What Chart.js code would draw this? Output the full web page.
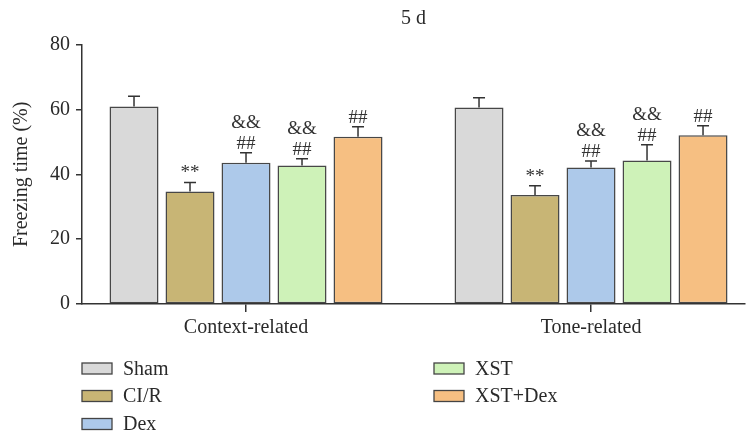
<!DOCTYPE html>
<html>
<head>
<meta charset="utf-8">
<script src="https://cdn.jsdelivr.net/npm/chart.js@4/dist/chart.umd.min.js"></script>
<style>
  html, body { margin: 0; padding: 0; background: #fff; }
  #wrap { width: 746px; height: 438px; }
</style>
</head>
<body>
<div id="wrap"><canvas id="myChart" width="746" height="438"></canvas></div>
<script>
// data
const categories = ['Context-related', 'Tone-related'];
const groups = ['Sham', 'CI/R', 'Dex', 'XST', 'XST+Dex'];
const contextMeans = [60.9, 34.7, 43.6, 42.7, 51.6];
const contextErr = [3.2, 2.8, 3.1, 2.1, 3.1];
const toneMeans = [60.6, 33.6, 42.1, 44.3, 52.1];
const toneErr = [3.0, 2.9, 2.0, 4.8, 2.9];
const contextMarks = [[], ['**'], ['##', '&&'], ['##', '&&'], ['##']];
const toneMarks = [[], ['**'], ['##', '&&'], ['##', '&&'], ['##']];
const yTicks = [0, 20, 40, 60, 80];

const colors = ['#d9d9d9', '#c8b575', '#adc9ea', '#cef2b8', '#f6bf82'];
const serif = '"Liberation Serif", "Times New Roman", serif';
const ink = '#2a2a2a';

var datasets = groups.map((g, i) => ({
  label: g,
  data: [{ x: 0, y: contextMeans[i] }, { x: 1, y: toneMeans[i] }],
  err: [contextErr[i], toneErr[i]],
  marks: [contextMarks[i], toneMarks[i]],
  backgroundColor: colors[i],
  borderColor: '#474747',
  borderWidth: 1.5,
  borderSkipped: false,
  categoryPercentage: 0.8116,
  barPercentage: 0.875
}));

// error bars + significance marks
const errorBars = {
  id: 'errorBars',
  afterDatasetsDraw(chart) {
    const ctx = chart.ctx;
    const y = chart.scales.y;
    ctx.save();
    chart.data.datasets.forEach((ds, di) => {
      const meta = chart.getDatasetMeta(di);
      meta.data.forEach((bar, j) => {
        const top = y.getPixelForValue(ds.data[j].y + ds.err[j]);
        ctx.strokeStyle = '#333';
        ctx.lineWidth = 1.5;
        ctx.beginPath();
        ctx.moveTo(bar.x, bar.y);
        ctx.lineTo(bar.x, top);
        ctx.moveTo(bar.x - 6, top);
        ctx.lineTo(bar.x + 6, top);
        ctx.stroke();
        ctx.fillStyle = '#333';
        ctx.font = '19px ' + serif;
        ctx.textAlign = 'center';
        ctx.textBaseline = 'alphabetic';
        ds.marks[j].forEach((m, k) => {
          ctx.fillText(m, bar.x, top - 4 - k * 21);
        });
      });
    });
    ctx.restore();
  }
};

// two-column legend under the axis
const sideLegend = {
  id: 'sideLegend',
  afterDraw(chart) {
    const ctx = chart.ctx;
    const cols = [82, 434];
    const rows = [368.5, 396, 424];
    ctx.save();
    ctx.font = '20px ' + serif;
    ctx.textBaseline = 'middle';
    ctx.textAlign = 'left';
    chart.data.datasets.forEach((ds, i) => {
      const col = i < 3 ? 0 : 1;
      const row = i < 3 ? i : i - 3;
      const bx = cols[col], by = rows[row];
      ctx.fillStyle = ds.backgroundColor;
      ctx.fillRect(bx, by - 5.5, 30, 11);
      ctx.strokeStyle = '#444';
      ctx.lineWidth = 1.3;
      ctx.strokeRect(bx, by - 5.5, 30, 11);
      ctx.fillStyle = ink;
      ctx.fillText(ds.label, bx + 41, by + 1);
    });
    ctx.restore();
  }
};

var config = {
  type: 'bar',
  data: { datasets: datasets },
  options: {
    responsive: false,
    animation: false,
    layout: { padding: { left: 0, right: 1, bottom: 94, top: 0 } },
    plugins: {
      legend: { display: false },
      tooltip: { enabled: false },
      title: {
        display: true,
        text: '5 d',
        fullSize: false,
        color: ink,
        font: { family: serif, size: 20, weight: 'normal' },
        padding: { top: 7, bottom: 13.7 }
      }
    },
    scales: {
      x: {
        type: 'linear',
        min: -0.4754,
        max: 1.4463,
        offset: false,
        afterBuildTicks: s => { s.ticks = [{ value: 0 }, { value: 1 }]; },
        afterFit: s => { s.height = 40; },
        ticks: {
          color: ink,
          padding: 4,
          font: { family: serif, size: 20 },
          callback: v => categories[v] || ''
        },
        grid: { display: true, drawOnChartArea: false, offset: false, tickLength: 8, color: '#333', lineWidth: 1.5 },
        border: { color: '#333', width: 1.5 }
      },
      y: {
        min: 0,
        max: 80,
        afterBuildTicks: s => { s.ticks = yTicks.map(v => ({ value: v })); },
        afterFit: s => { s.width = 82; },
        ticks: { color: ink, padding: 6, font: { family: serif, size: 20 } },
        grid: { drawOnChartArea: false, tickLength: 6, color: '#333', lineWidth: 1.5 },
        border: { color: '#333', width: 1.5 },
        title: {
          display: true,
          text: 'Freezing time (%)',
          color: ink,
          font: { family: serif, size: 20 },
          padding: { top: 10, bottom: 0 }
        }
      }
    }
  },
  plugins: [errorBars, sideLegend]
};

var myChart = new Chart(document.getElementById('myChart').getContext('2d'), config);
</script>
</body>
</html>
